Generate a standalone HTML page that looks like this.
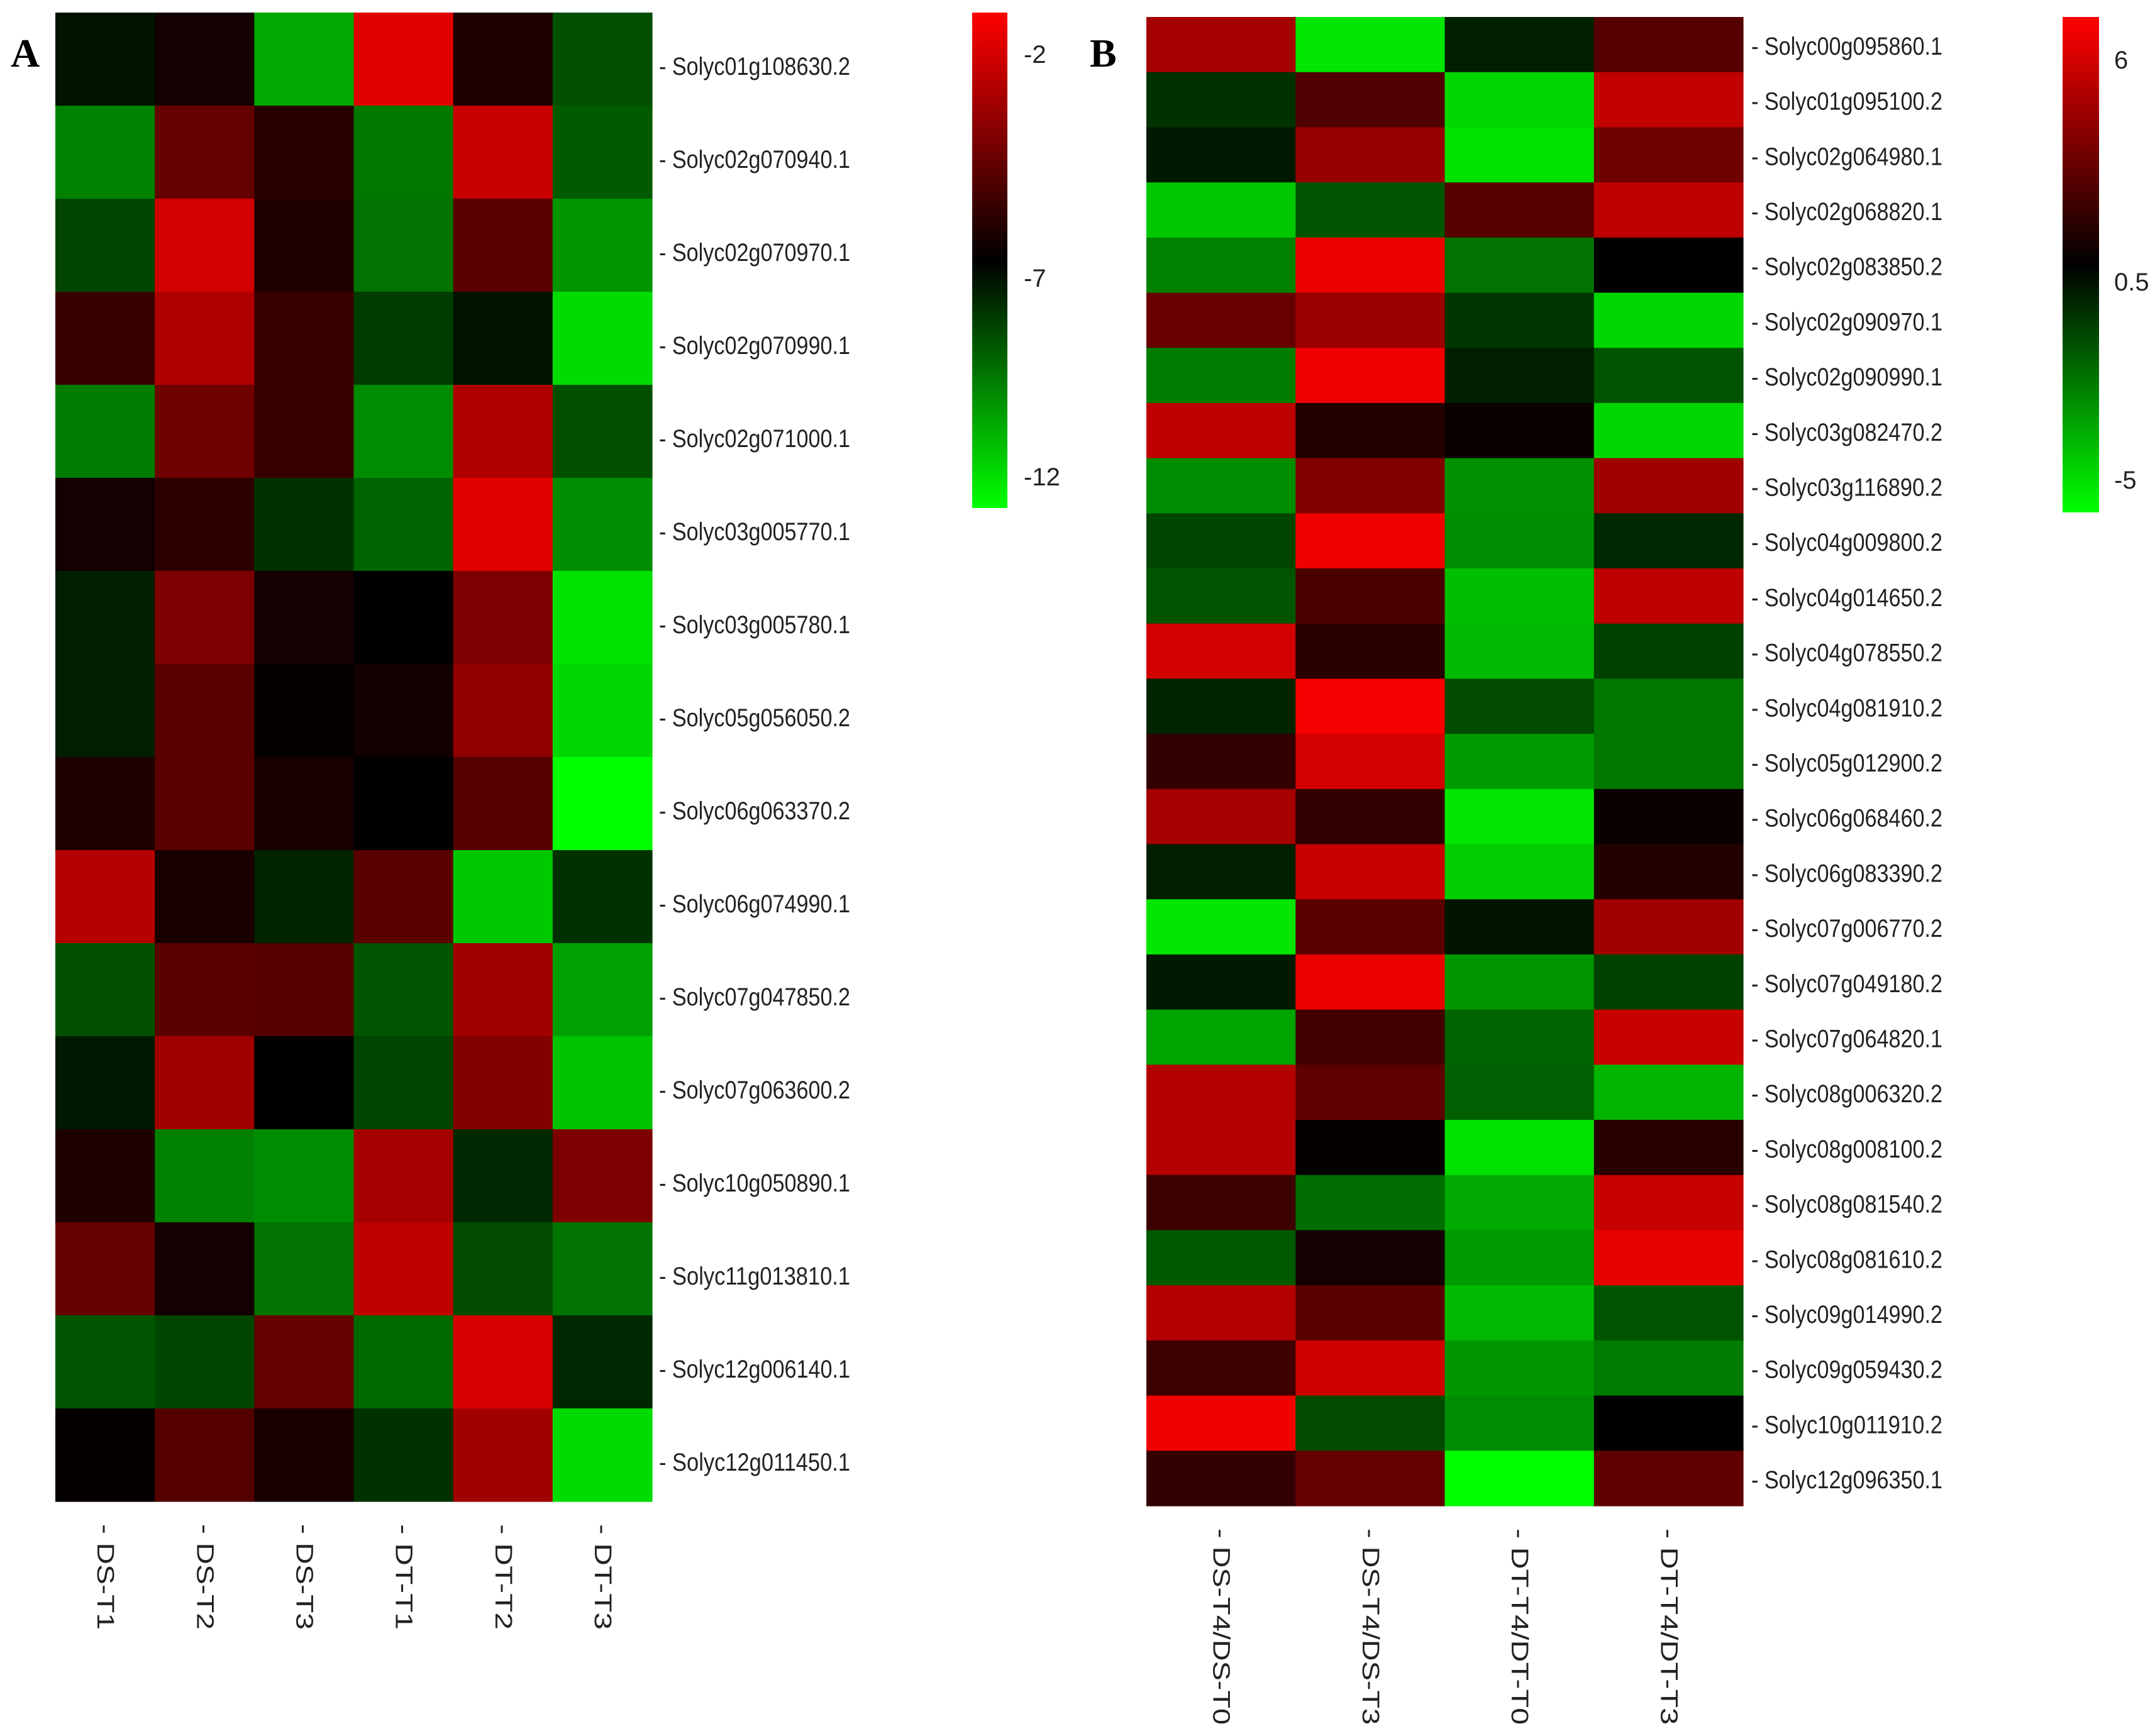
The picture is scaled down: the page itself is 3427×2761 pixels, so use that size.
<!DOCTYPE html>
<html><head><meta charset="utf-8">
<style>
html,body{margin:0;padding:0;background:#fff;}
svg{display:block;}
text{font-family:"Liberation Sans",sans-serif;fill:#222;}
</style></head>
<body>
<svg id="fig" width="3427" height="2761" viewBox="0 0 3427 2761" xmlns="http://www.w3.org/2000/svg">
<defs>
<linearGradient id="gradA" x1="0" y1="0" x2="0" y2="1">
<stop offset="0" stop-color="#ff0000"/><stop offset="0.5" stop-color="#000000"/><stop offset="1" stop-color="#00ff00"/>
</linearGradient>
</defs>
<text x="17" y="106" style="font-family:'Liberation Serif',serif;font-weight:bold;font-size:64px;fill:#000">A</text>
<text x="1733" y="106" style="font-family:'Liberation Serif',serif;font-weight:bold;font-size:64px;fill:#000">B</text>
<g id="panelA"></g>
<g id="panelB"></g>
<rect x="1546" y="20" width="56" height="788" fill="url(#gradA)"/>
<rect x="3280" y="27" width="58" height="788" fill="url(#gradA)"/>
<g id="cbTicks"></g>
</svg>
<script>
const genesA = ["Solyc01g108630.2","Solyc02g070940.1","Solyc02g070970.1","Solyc02g070990.1","Solyc02g071000.1","Solyc03g005770.1","Solyc03g005780.1","Solyc05g056050.2","Solyc06g063370.2","Solyc06g074990.1","Solyc07g047850.2","Solyc07g063600.2","Solyc10g050890.1","Solyc11g013810.1","Solyc12g006140.1","Solyc12g011450.1"];
const samplesA = ["DS-T1","DS-T2","DS-T3","DT-T1","DT-T2","DT-T3"];
const valuesA = [
[-7.39,-6.61,-10.33,-2.59,-6.41,-8.57],
[-9.55,-5.04,-6.22,-9.35,-3.08,-8.76],
[-8.37,-2.88,-6.41,-9.25,-5.24,-9.94],
[-5.92,-3.57,-5.92,-8.18,-7.39,-11.31],
[-9.45,-4.84,-5.92,-9.75,-3.57,-8.57],
[-6.61,-6.12,-7.98,-8.96,-2.59,-9.75],
[-7.59,-4.55,-6.61,-7.0,-4.55,-11.41],
[-7.59,-5.24,-6.9,-6.65,-4.16,-11.22],
[-6.41,-5.24,-6.51,-7.0,-5.33,-12],
[-3.47,-6.51,-7.69,-5.24,-10.92,-7.98],
[-8.57,-5.24,-5.33,-8.67,-3.86,-10.14],
[-7.49,-3.86,-7.0,-8.37,-4.45,-10.82],
[-6.41,-9.55,-9.75,-3.76,-7.78,-4.55],
[-5.04,-6.61,-9.25,-3.27,-8.47,-9.25],
[-8.67,-8.37,-5.04,-9.06,-2.78,-7.78],
[-6.9,-5.33,-6.51,-7.98,-3.86,-11.31]];
const ticksA = ["-2","-7","-12"];
const genesB = ["Solyc00g095860.1","Solyc01g095100.2","Solyc02g064980.1","Solyc02g068820.1","Solyc02g083850.2","Solyc02g090970.1","Solyc02g090990.1","Solyc03g082470.2","Solyc03g116890.2","Solyc04g009800.2","Solyc04g014650.2","Solyc04g078550.2","Solyc04g081910.2","Solyc05g012900.2","Solyc06g068460.2","Solyc06g083390.2","Solyc07g006770.2","Solyc07g049180.2","Solyc07g064820.1","Solyc08g006320.2","Solyc08g008100.2","Solyc08g081540.2","Solyc08g081610.2","Solyc09g014990.2","Solyc09g059430.2","Solyc10g011910.2","Solyc12g096350.1"];
const samplesB = ["DS-T4/DS-T0","DS-T4/DS-T3","DT-T4/DT-T0","DT-T4/DT-T3"];
const valuesB = [
[4.06,-4.46,-0.15,2.33],[-0.58,2.23,-4.14,4.71],[-0.04,3.74,-4.35,2.87],[-3.81,-1.33,2.33,4.6],
[-2.3,5.57,-1.98,0.5],[2.76,3.84,-0.69,-4.14],[-2.2,5.68,-0.15,-1.33],[4.6,1.25,0.72,-4.14],
[-2.52,3.3,-2.63,3.95],[-1.01,5.68,-2.52,-0.36],[-1.33,2.12,-3.6,4.6],[5.03,1.36,-3.49,-0.9],
[-0.25,5.78,-1.12,-2.09],[1.58,5.03,-2.84,-2.09],[4.06,1.58,-4.46,0.72],[-0.15,4.81,-3.92,1.25],
[-4.46,2.44,0.07,3.95],[-0.04,5.57,-2.74,-0.9],[-3.06,1.9,-1.66,4.81],[4.38,2.55,-1.55,-3.38],
[4.38,0.61,-4.35,1.36],[1.79,-1.87,-3.17,4.81],[-1.44,0.93,-2.84,5.46],[4.38,2.44,-3.49,-1.33],
[1.79,4.92,-2.74,-2.2],[5.68,-1.12,-2.52,0.5],[1.58,2.66,-5.0,2.55]];
const ticksB = ["6","0.5","-5"];

const NS = "http://www.w3.org/2000/svg";
function colorFor(v, lo, hi){
  const mid = (lo+hi)/2;
  if (v >= mid){ const r = Math.round(255*Math.min(1,(v-mid)/(hi-mid))); return `rgb(${r},0,0)`; }
  const g = Math.round(255*Math.min(1,(mid-v)/(mid-lo))); return `rgb(0,${g},0)`;
}
function mk(tag, attrs, parent){
  const e = document.createElementNS(NS, tag);
  for (const k in attrs) e.setAttribute(k, attrs[k]);
  parent.appendChild(e); return e;
}
function drawPanel(g, genes, samples, values, lo, hi, x0, x1, y0, y1, labelX, labelDy, colLabelY, colLabelLen){
  const cw = (x1-x0)/samples.length, rh = (y1-y0)/genes.length;
  const xs = i => x0 + i*cw, ys = j => y0 + j*rh;
  values.forEach((row,j)=>row.forEach((v,i)=>{
    const r = mk('rect',{x:xs(i),y:ys(j),width:cw+0.6,height:rh+0.6,fill:colorFor(v,lo,hi)},g);
    
    
  }));
  genes.forEach((gn,j)=>{
    const t = mk('text',{x:labelX,y:ys(j)+rh/2+labelDy,'font-size':40,textLength:304,lengthAdjust:'spacingAndGlyphs'},g);
    t.textContent = '- ' + gn;
    
    
  });
  samples.forEach((s,i)=>{
    const cx = xs(i)+cw/2;
    const t = mk('text',{x:cx,y:colLabelY,'font-size':38,'dominant-baseline':'central',transform:`rotate(90 ${cx} ${colLabelY})`,textLength:colLabelLen,lengthAdjust:'spacingAndGlyphs'},g);
    t.textContent = '- ' + s;
    
    
  });
}
drawPanel(document.getElementById('panelA'), genesA, samplesA, valuesA, -12, -2, 88, 1037, 20, 2388, 1048, 25, 2424, 168);
drawPanel(document.getElementById('panelB'), genesB, samplesB, valuesB, -5, 6, 1823, 2772, 27, 2395, 2785, 16, 2431, 312);

const cb = document.getElementById('cbTicks');
const tickYA = [86, 442, 758];
ticksA.forEach((t,i)=>{
  const e = mk('text',{x:1628,y:tickYA[i]+14,'font-size':40},cb);
  e.textContent = t;
  
  
});
const tickYB = [95, 448, 763];
ticksB.forEach((t,i)=>{
  const e = mk('text',{x:3362,y:tickYB[i]+14,'font-size':40},cb);
  e.textContent = t;
  
  
});
</script>
</body></html>
